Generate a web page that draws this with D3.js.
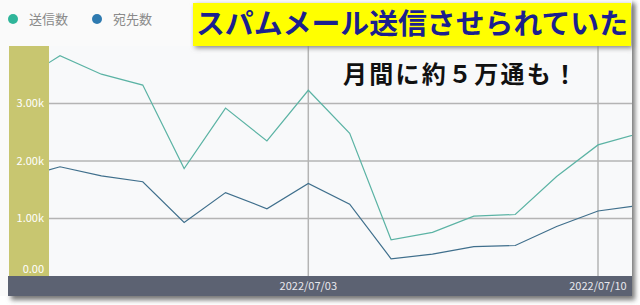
<!DOCTYPE html>
<html><head><meta charset="utf-8">
<script src="https://cdn.jsdelivr.net/npm/d3@7"></script>
<style>
html,body{margin:0;padding:0;background:#ffffff;}
svg{display:block;}
text{font-family:"Noto Sans CJK JP","Noto Sans",sans-serif;}
</style></head>
<body>
<svg id="c" width="640" height="305"></svg>
<script>
const dates = ["2022-06-26","2022-06-27","2022-06-28","2022-06-29","2022-06-30","2022-07-01","2022-07-02","2022-07-03","2022-07-04","2022-07-05","2022-07-06","2022-07-07","2022-07-08","2022-07-09","2022-07-10","2022-07-11"];
const sent = [3380,3830,3510,3320,1870,2920,2350,3230,2480,630,760,1040,1070,1730,2280,2480];
const recipients = [1700,1900,1740,1640,930,1450,1170,1610,1250,300,380,510,530,860,1130,1230];
const seriesNames = ["送信数","宛先数"];
const yTicks = [0,1000,2000,3000];
const xTickLabels = ["2022/07/03","2022/07/10"];
const titleText = "スパムメール送信させられていた";
const subText = "月間に約５万通も！";

const svg = d3.select("#c");
const panel = {x0:8, x1:632, y0:0, y1:296};
const plot = {x0:49, x1:632, y0:46, y1:276};
const colTeal = "#2fb59a", colBlue = "#2e7ab0";
const lineTeal = "#5bb3a4", lineBlue = "#3f6f8c";

const parse = d3.utcParse("%Y-%m-%d");
const fmtTick = d3.utcFormat("%Y/%m/%d");
const dd = dates.map(parse);

// shadow
const defs = svg.append("defs");
const f = defs.append("filter").attr("id","sh").attr("x","-10%").attr("y","-10%").attr("width","120%").attr("height","130%");
f.append("feGaussianBlur").attr("stdDeviation",2.5);
defs.append("clipPath").attr("id","pc").append("rect")
  .attr("x",plot.x0).attr("y",plot.y0).attr("width",plot.x1-plot.x0).attr("height",plot.y1-plot.y0);

svg.append("rect").attr("x",panel.x0+3).attr("y",panel.y0+3).attr("width",panel.x1-panel.x0).attr("height",panel.y1-panel.y0+1)
  .attr("fill","#777").attr("filter","url(#sh)");
svg.append("rect").attr("x",0).attr("y",0).attr("width",panel.x1).attr("height",panel.y1).attr("fill","#fafafa");
svg.append("rect").attr("x",plot.x0).attr("y",plot.y0).attr("width",plot.x1-plot.x0).attr("height",plot.y1-plot.y0).attr("fill","#f8f9fa");

const x = d3.scaleUtc().domain([parse("2022-07-03"), parse("2022-07-10")]).range([308.3, 598]);
const y = d3.scaleLinear().domain([0,4000]).range([plot.y1, plot.y0]);

// gridlines
svg.append("g").selectAll("line").data(yTicks.filter(v=>v>0)).join("line")
  .attr("x1",plot.x0).attr("x2",plot.x1).attr("y1",d=>y(d)).attr("y2",d=>y(d))
  .attr("stroke","#b4b4b4").attr("stroke-width",1.5);
svg.append("g").selectAll("line").data(xTickLabels).join("line")
  .attr("x1",d=>x(d3.utcParse("%Y/%m/%d")(d))).attr("x2",d=>x(d3.utcParse("%Y/%m/%d")(d)))
  .attr("y1",plot.y0).attr("y2",plot.y1).attr("stroke","#b4b4b4").attr("stroke-width",1.5);

// lines
const line = d3.line().x((d,i)=>x(dd[i])).y(d=>y(d));
const g = svg.append("g").attr("clip-path","url(#pc)");
g.append("path").datum(sent).attr("d",line).attr("fill","none").attr("stroke",lineTeal).attr("stroke-width",1.2);
g.append("path").datum(recipients).attr("d",line).attr("fill","none").attr("stroke",lineBlue).attr("stroke-width",1.2);

// y axis band
svg.append("rect").attr("x",9).attr("y",plot.y0).attr("width",plot.x0-9).attr("height",plot.y1-plot.y0).attr("fill","#c8c670");
svg.append("g").selectAll("text").data(yTicks).join("text")
  .attr("x",44).attr("y",d=>Math.min(y(d), plot.y1-7)).attr("dy","0.35em")
  .attr("text-anchor","end").attr("fill","#ffffff").attr("font-size",11)
  .attr("font-family","'Open Sans',sans-serif")
  .text(d=> d===0 ? "0.00" : d3.format(".2f")(d/1000)+"k");

// x axis bar
svg.append("rect").attr("x",panel.x0).attr("y",plot.y1).attr("width",panel.x1-panel.x0).attr("height",panel.y1-plot.y1).attr("fill","#5c6272");
svg.append("g").selectAll("text").data(xTickLabels).join("text")
  .attr("x",d=>Math.min(x(d3.utcParse("%Y/%m/%d")(d)), panel.x1-32)).attr("y",(plot.y1+panel.y1)/2).attr("dy","0.35em")
  .attr("text-anchor","middle").attr("fill","#e8e8ee").attr("font-size",11)
  .attr("font-family","'Open Sans',sans-serif")
  .text(d=>d);

// legend
const leg = svg.append("g");
const legX = [13, 97];
seriesNames.forEach((n,i)=>{
  leg.append("circle").attr("cx",legX[i]).attr("cy",19).attr("r",5).attr("fill",[colTeal,colBlue][i]);
  leg.append("text").attr("x",legX[i]+16).attr("y",19).attr("dy","0.35em").attr("font-size",13).attr("fill","#8a8a8a").text(n);
});

// banner
svg.append("rect").attr("x",195).attr("y",5).attr("width",438).attr("height",43).attr("fill","#888").attr("filter","url(#sh)");
svg.append("rect").attr("x",193).attr("y",3).attr("width",438).attr("height",43).attr("fill","#ffff00");
svg.append("text").attr("x",412).attr("y",24.5).attr("dy","0.35em").attr("text-anchor","middle")
  .attr("font-size",28.5).attr("font-weight","bold").attr("fill","#1b1f8f").attr("textLength",432).attr("lengthAdjust","spacingAndGlyphs").text(titleText);
svg.append("text").attr("x",460).attr("y",75).attr("dy","0.35em").attr("text-anchor","middle")
  .attr("font-size",24).attr("font-weight","bold").attr("fill","#111").attr("textLength",234).attr("lengthAdjust","spacing").text(subText);
</script>
</body></html>
